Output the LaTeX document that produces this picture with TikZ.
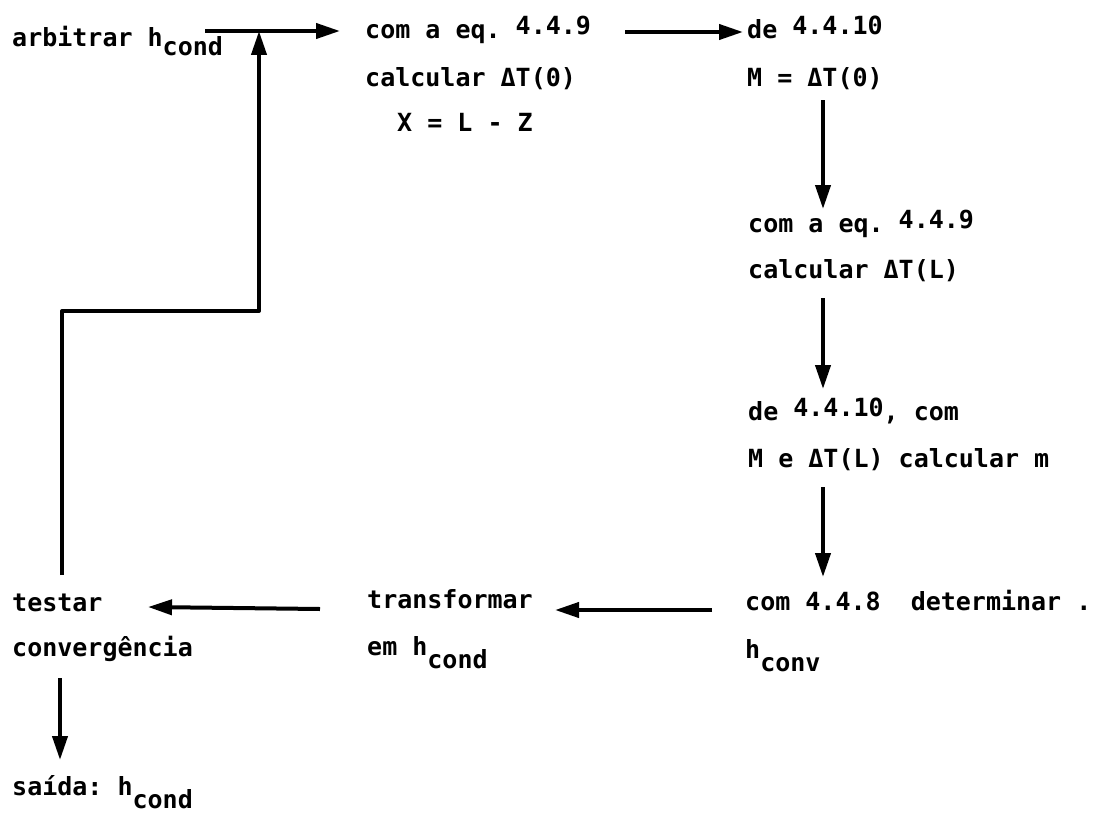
\documentclass[tikz,border=0pt]{standalone}
\usepackage{fontspec}
\setmonofont{DejaVu Sans Mono}
\usetikzlibrary{arrows.meta}
\newcommand{\sbc}[1]{\raisebox{-13pt}{#1}}
\newcommand{\spr}[1]{\raisebox{4pt}{#1}}
\begin{document}
\frenchspacing
\begin{tikzpicture}[x=1pt,y=-1pt,
  txt/.style={anchor=base west, inner sep=0pt, font=\ttfamily\bfseries\fontsize{25}{30}\selectfont},
  arr/.style={line width=4pt, line join=round, -{Triangle[length=24pt,width=15pt]}}]
\useasboundingbox (0,0) rectangle (1102,816);
% texts
\node[txt] (a1) at (12,47) {arbitrar h\raisebox{-9pt}{cond}};
\node[txt] (c1) at (365,39) {com a eq. \spr{4.4.9}};
\node[txt] (c2) at (365,86) {calcular ΔT(0)};
\node[txt] (c3) at (397,131) {X = L - Z};
\node[txt] (d1) at (747,39) {de \spr{4.4.10}};
\node[txt] (d2) at (747,86) {M = ΔT(0)};
\node[txt] (e1) at (748,232) {com a eq. \spr{4.4.9}};
\node[txt] (e2) at (748,278) {calcular ΔT(L)};
\node[txt] (f1) at (748,420) {de \spr{4.4.10}, com};
\node[txt] (f2) at (748,467) {M e ΔT(L) calcular m};
\node[txt] (g1) at (745,610) {com 4.4.8~~determinar .};
\node[txt] (g2) at (745,658) {h\sbc{conv}};
\node[txt] (h1) at (367,608) {transformar};
\node[txt] (h2) at (367,655) {em h\sbc{cond}};
\node[txt] (i1) at (12,611) {testar};
\node[txt] (i2) at (12,656) {convergência};
\node[txt] (j1) at (12,795) {saída: h\sbc{cond}};
% connector end points
\coordinate (p0) at (205,31);
\coordinate (p1) at (340,31);
\coordinate (q0) at (625,32);
\coordinate (q1) at (743,32);
\coordinate (r0) at (823,100);
\coordinate (r1) at (823,209);
\coordinate (s0) at (823,298);
\coordinate (s1) at (823,389);
\coordinate (t0) at (823,487);
\coordinate (t1) at (823,577);
\coordinate (u0) at (712,610);
\coordinate (u1) at (555,610);
\coordinate (v0) at (320,609);
\coordinate (v1) at (148,607);
\coordinate (w0) at (60,678);
\coordinate (w1) at (60,760);
\coordinate (k0) at (62,575);
\coordinate (k1) at (259,311);
\coordinate (k2) at (259,31);
% connectors
\draw[arr] (p0) -- (p1);
\draw[arr] (q0) -- (q1);
\draw[arr] (r0) -- (r1);
\draw[arr] (s0) -- (s1);
\draw[arr] (t0) -- (t1);
\draw[arr] (u0) -- (u1);
\draw[arr] (v0) -- (v1);
\draw[arr] (w0) -- (w1);
\draw[arr] (k0) |- (k1) -- (k2);
\end{tikzpicture}
\end{document}
